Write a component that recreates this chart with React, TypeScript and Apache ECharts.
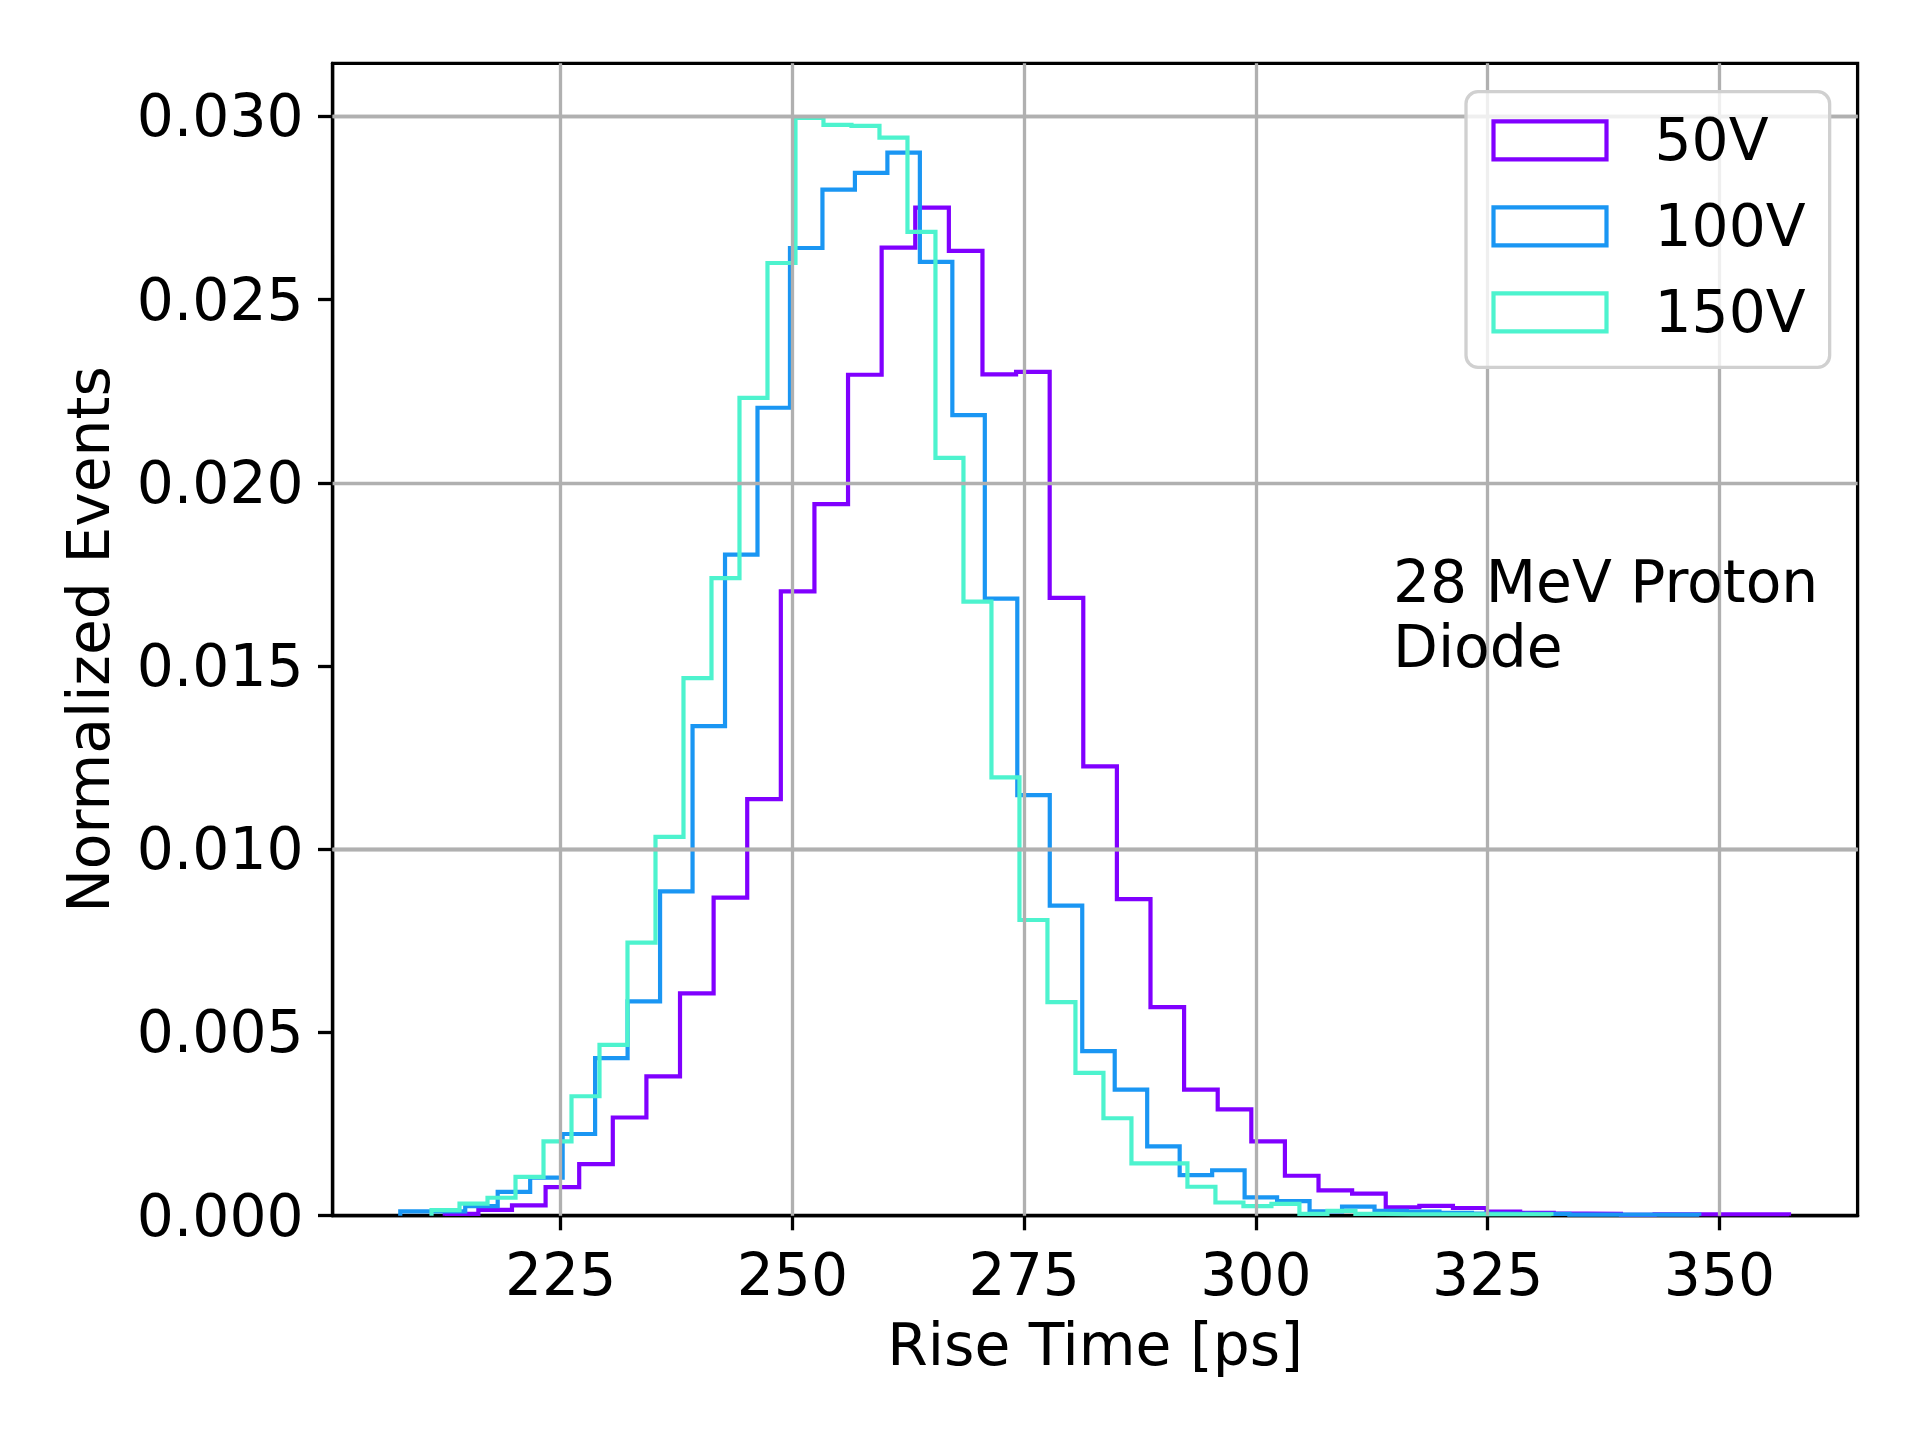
import React, { useEffect, useRef } from "react";
import * as echarts from "echarts";

// ---- data ----
const seriesNames = ["50V", "100V", "150V"];
const binStart = [212.5, 207.7, 211.07];
const binWidth = [3.625, 3.503, 3.02];

const values50V = [
  0.00005, 0.00016, 0.00028, 0.00078, 0.00141, 0.00268, 0.0038, 0.00607, 0.00868, 0.01137,
  0.01704, 0.01942, 0.02295, 0.02642, 0.02751, 0.02633, 0.02296, 0.02303, 0.01686, 0.01226,
  0.00864, 0.00569, 0.00344, 0.0029, 0.00203, 0.00109, 0.00069, 0.0006, 0.00023, 0.00027,
  0.00021, 0.00011, 0.00008, 0.00006, 0.00005, 0.00002, 0.00004, 0.00004, 0.00004, 0.00004,
];
const values100V = [
  0.00012, 0.00012, 0.00026, 0.00065, 0.00104, 0.00223, 0.0043, 0.00585, 0.00885, 0.01336,
  0.01804, 0.02205, 0.02641, 0.028, 0.02846, 0.02901, 0.02603, 0.02185, 0.01684, 0.01148,
  0.00846, 0.00449, 0.00344, 0.00189, 0.00111, 0.00124, 0.0005, 0.0004, 0.00012, 0.00025,
  0.00013, 0.00011, 0.00008, 0.00006, 0.00005, 0.00005, 0.00003, 0.00003, 0.00003, 0.00003,
];
const values150V = [
  0.00015, 0.00033, 0.00049, 0.00106, 0.00203, 0.00326, 0.00466, 0.00745, 0.01034, 0.01467,
  0.0174, 0.02232, 0.026, 0.02996, 0.02977, 0.02974, 0.02942, 0.02685, 0.02068, 0.01676,
  0.01196, 0.00807, 0.00583, 0.0039, 0.00266, 0.00143, 0.00143, 0.00079, 0.00036, 0.00026,
  0.00032, 0.00005, 0.00013, 0.00005, 0.00004, 0.00004, 0.00004, 0.00004, 0.00004, 0.00004,
];
const seriesValues = [values50V, values100V, values150V];

const xTicks = [225, 250, 275, 300, 325, 350];
const yTicks = [0, 0.005, 0.01, 0.015, 0.02, 0.025, 0.03];
const xRange = [200.4, 364.9];
const yRange = [0, 0.03145];

const annotation = "28 MeV Proton\nDiode";
const xTitle = "Rise Time [ps]";
const yTitle = "Normalized Events";

// ---- styles ----
const colors = ["#8000ff", "#1a96f3", "#4df3ce"];
const FONT = "DejaVu Sans";
const FS = 58.3;
const GRID_COLOR = "#b0b0b0";

function stepPoints(start: number, width: number, vals: number[]) {
  const pts: number[][] = [[start, 0]];
  vals.forEach((v, i) => {
    const a = start + i * width;
    const b = start + (i + 1) * width;
    pts.push([a, v], [b, v]);
  });
  pts.push([start + vals.length * width, 0]);
  return pts;
}

export default function App() {
  const ref = useRef<HTMLDivElement>(null);

  useEffect(() => {
    document.body.style.margin = "0";
    if (!ref.current) return;
    const chart = echarts.init(ref.current, null, { renderer: "svg" });

    const histSeries = seriesNames.map((name, k) => ({
      name,
      type: "line",
      data: stepPoints(binStart[k], binWidth[k], seriesValues[k]),
      showSymbol: false,
      symbol: "none",
      silent: true,
      z: 2,
      lineStyle: { color: colors[k], width: 4.2, join: "miter" },
      itemStyle: { color: colors[k] },
      emphasis: { disabled: true },
    }));

    const gridSeries = {
      name: "__grid",
      type: "line",
      data: [],
      silent: true,
      z: 3,
      markLine: {
        silent: true,
        symbol: ["none", "none"],
        label: { show: false },
        lineStyle: { color: GRID_COLOR, width: 3.3, type: "solid" },
        emphasis: { disabled: true },
        data: [
          ...xTicks.map((v) => ({ xAxis: v })),
          ...yTicks.filter((v) => v > 0).map((v) => ({ yAxis: v })),
        ],
      },
    };

    const option: any = {
      animation: false,
      backgroundColor: "#ffffff",
      textStyle: { fontFamily: FONT },
      grid: {
        left: 332.6,
        right: 62.4,
        top: 63.3,
        bottom: 224.3,
        show: true,
        borderColor: "#000000",
        borderWidth: 3.3,
        backgroundColor: "transparent",
        containLabel: false,
        outerBoundsMode: "none",
      },
      xAxis: {
        type: "value",
        min: xRange[0],
        max: xRange[1],
        name: xTitle,
        nameLocation: "middle",
        nameGap: 100,
        nameTextStyle: { fontFamily: FONT, fontSize: FS, color: "#000" },
        axisLine: { show: true, lineStyle: { color: "#000", width: 3.3 } },
        axisTick: {
          show: true,
          customValues: xTicks,
          length: 14.6,
          inside: false,
          lineStyle: { color: "#000", width: 3.3 },
        },
        axisLabel: {
          customValues: xTicks,
          margin: 30,
          fontFamily: FONT,
          fontSize: FS,
          color: "#000",
          formatter: (v: number) => String(Math.round(v)),
        },
        splitLine: { show: false },
      },
      yAxis: {
        type: "value",
        min: yRange[0],
        max: yRange[1],
        name: yTitle,
        nameLocation: "middle",
        nameGap: 215,
        nameRotate: 90,
        nameTextStyle: { fontFamily: FONT, fontSize: FS, color: "#000" },
        axisLine: { show: true, lineStyle: { color: "#000", width: 3.3 } },
        axisTick: {
          show: true,
          customValues: yTicks,
          length: 14.6,
          inside: false,
          lineStyle: { color: "#000", width: 3.3 },
        },
        axisLabel: {
          customValues: yTicks,
          margin: 29,
          fontFamily: FONT,
          fontSize: FS,
          color: "#000",
          formatter: (v: number) => v.toFixed(3),
        },
        splitLine: { show: false },
      },
      legend: {
        show: true,
        orient: "vertical",
        left: 1466,
        top: 91.7,
        align: "left",
        icon: "rect",
        itemWidth: 113,
        itemHeight: 38,
        itemGap: 28,
        padding: [19.7, 24, 26, 25.4],
        backgroundColor: "rgba(255,255,255,0.8)",
        borderColor: "#d0d0d0",
        borderWidth: 3.3,
        borderRadius: 12,
        selectedMode: false,
        z: 10,
        textStyle: {
          fontFamily: FONT,
          fontSize: FS,
          color: "#000",
          padding: [0, 0, 0, 43],
        },
        data: seriesNames.map((name, k) => ({
          name,
          icon: "rect",
          itemStyle: {
            color: "rgba(0,0,0,0)",
            borderColor: colors[k],
            borderWidth: 4.2,
          },
        })),
      },
      graphic: [
        {
          type: "text",
          left: 1393,
          top: 549,
          z: 10,
          style: {
            text: annotation,
            fontFamily: FONT,
            fontSize: FS,
            lineHeight: 65,
            fill: "#000",
          },
        },
      ],
      series: [...histSeries, gridSeries],
    };

    chart.setOption(option);
    return () => chart.dispose();
  }, []);

  return <div ref={ref} style={{ width: 1920, height: 1440 }} />;
}
